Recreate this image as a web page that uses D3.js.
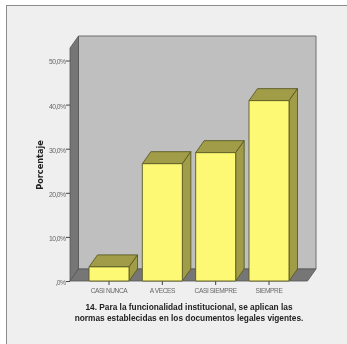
<!DOCTYPE html>
<html><head><meta charset="utf-8">
<script src="https://cdn.jsdelivr.net/npm/d3@7"></script>
<style>html,body{margin:0;padding:0;background:#fff}svg{display:block}</style>
</head><body><svg id="c" width="347" height="344"></svg>
<script>
const categories = ["CASI NUNCA","A VECES","CASI SIEMPRE","SIEMPRE"];
const percentages = [3.2,26.6,29.1,40.9];
const yTickValues = [0,10,20,30,40,50];
const yTitle = "Porcentaje";
const titleLines = ["14. Para la funcionalidad institucional, se aplican las","normas establecidas en los documentos legales vigentes."];

const W=347,H=344,dx=8.5,dy=-12;
const svg=d3.select("#c");
const defs=svg.append("defs");
defs.append("filter").attr("id","soft").attr("x","-5%").attr("y","-5%").attr("width","110%").attr("height","110%")
  .append("feGaussianBlur").attr("stdDeviation",0.4);
const root=svg.append("g").attr("filter","url(#soft)");
root.append("rect").attr("x",6.5).attr("y",5.5).attr("width",W).attr("height",H)
  .attr("fill","#efefef").attr("stroke","#8c8c8c").attr("stroke-width",1);

const y=d3.scaleLinear().domain([0,50]).range([281,60.5]);
const x=d3.scaleBand().domain(categories).range([89,289]).paddingInner(.25).paddingOuter(0);
const floorL=70, floorR=307.5, top50=48;
const poly=p=>p.map(q=>q.join(",")).join(" ");
// back wall
root.append("polygon").attr("points",poly([[floorL+dx,top50+dy],[floorR+dx,top50+dy],[floorR+dx,y(0)+dy],[floorL+dx,y(0)+dy]]))
  .attr("fill","#bfbfbf").attr("stroke","#6e6e6e").attr("stroke-width",1);
// left wall
root.append("polygon").attr("points",poly([[floorL,top50],[floorL+dx,top50+dy],[floorL+dx,y(0)+dy],[floorL,y(0)]]))
  .attr("fill","#767676").attr("stroke","#555").attr("stroke-width",.8);
// floor
root.append("polygon").attr("points",poly([[floorL,y(0)],[floorL+dx,y(0)+dy],[floorR+dx,y(0)+dy],[floorR,y(0)]]))
  .attr("fill","#767676").attr("stroke","#555").attr("stroke-width",.8);

// axes
const yAxis=d3.axisLeft(y).tickValues(yTickValues).tickSize(4).tickFormat(d=>d===0?",0%":d3.format(".1f")(d).replace(".",",")+"%");
const ga=root.append("g").attr("transform",`translate(${floorL},0)`).call(yAxis);
ga.select(".domain").remove();
ga.selectAll("line").attr("stroke","#444");
ga.selectAll("text").attr("font-family","Liberation Sans, sans-serif").attr("font-size",6.8).attr("letter-spacing",-0.55).attr("fill","#666").attr("x",-4.5).attr("dy","0.5em");

const xAxis=d3.axisBottom(x).tickSize(4);
const gb=root.append("g").attr("transform","translate(0,281)").call(xAxis);
gb.select(".domain").remove();
gb.selectAll("line").attr("stroke","#444");
gb.selectAll("text").attr("font-family","Liberation Sans, sans-serif").attr("font-size",6.6).attr("letter-spacing",-0.4).attr("fill","#666").attr("y",7.5).attr("dy","0.71em");

// bars
const bars=root.selectAll("g.bar").data(categories.map((c,i)=>({c,v:percentages[i]}))).join("g").attr("class","bar");
const stroke={stroke:"#5a5a25","stroke-width":.9,"stroke-linejoin":"round"};
function st(s){for(const k in stroke)s.attr(k,stroke[k]);return s;}
st(bars.append("polygon").attr("fill","#a09c46").attr("points",d=>{const a=x(d.c),b=a+x.bandwidth(),t=y(d.v);return poly([[a,t],[a+dx,t+dy],[b+dx,t+dy],[b,t]]);}));
st(bars.append("polygon").attr("fill","#a09c46").attr("points",d=>{const b=x(d.c)+x.bandwidth(),t=y(d.v);return poly([[b,t],[b+dx,t+dy],[b+dx,y(0)+dy],[b,y(0)]]);}));
st(bars.append("rect").attr("fill","#fdf975").attr("x",d=>x(d.c)).attr("width",x.bandwidth()).attr("y",d=>y(d.v)).attr("height",d=>y(0)-y(d.v)));

// titles
root.append("text").text(yTitle).attr("transform","translate(43,165) rotate(-90)").attr("text-anchor","middle")
  .attr("font-family","DejaVu Sans, sans-serif").attr("font-weight","bold").attr("font-size",8.2).attr("fill","#222");
root.selectAll("text.t").data(titleLines).join("text").attr("class","t").text(d=>d)
  .attr("x",189).attr("y",(d,i)=>310+i*10.5).attr("text-anchor","middle")
  .attr("font-family","Liberation Sans, sans-serif").attr("font-weight","bold").attr("font-size",8.3).attr("fill","#222");
</script></body></html>
